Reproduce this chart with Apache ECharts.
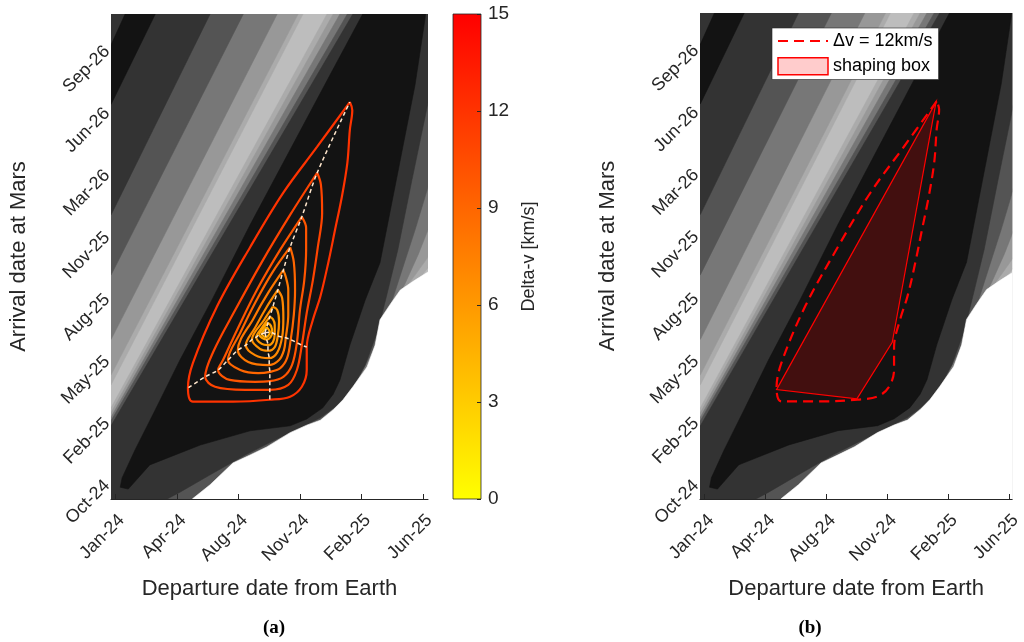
<!DOCTYPE html>
<html>
<head>
<meta charset="utf-8">
<script src="https://cdn.jsdelivr.net/npm/echarts@6/dist/echarts.min.js"></script>
<style>
  html, body { margin: 0; padding: 0; background: #ffffff; }
  #chart { width: 1024px; height: 642px; }
</style>
</head>
<body>
<div id="chart"></div>
<script>
// Axes: departure day (x) and arrival day (y), ticks every 100 days
const X_TICKS = [0, 100, 200, 300, 400, 500];
const X_TICK_LABELS = ['Jan-24', 'Apr-24', 'Aug-24', 'Nov-24', 'Feb-25', 'Jun-25'];
const Y_TICKS = [0, 100, 200, 300, 400, 500, 600, 700];
const Y_TICK_LABELS = ['Oct-24', 'Feb-25', 'May-25', 'Aug-25', 'Nov-25', 'Mar-26', 'Jun-26', 'Sep-26'];
const X_RANGE_A = [-7, 508];
const X_RANGE_B = [-7.7, 505];
const Y_RANGE = [-26, 756];
const CBAR_RANGE = [0, 15];

// Filled porkchop levels: each region holds the points below one level (index 0 = lowest)
const MAIN_LT_C5 = [[344,756],[-7,121],[-40,121],[-40,-60],[430,-60],[430,53],[438,247],[454,287],[471,306],[492,327],[508,347],[540,347],[540,790],[344,790]];
const MAIN_LT_C4 = [[354,756],[-7,113],[-40,113],[-40,-60],[414,-60],[414,53],[417,206],[433,243],[450,276],[467,308],[487,335],[508,364],[540,364],[540,790],[354,790]];
const MAIN_LT_C3 = [[365,756],[-7,106],[-40,106],[-40,-60],[389,-60],[389,53],[391,158],[407,185],[424,218],[440,255],[454,287],[471,322],[492,368],[508,408],[540,408],[540,790],[365,790]];
const MAIN_LT_C2 = [[377,756],[-7,100],[-40,100],[-40,-60],[365,-60],[365,69],[362,121],[381,147],[398,174],[417,211],[435,255],[451,298],[467,347],[487,408],[508,477],[540,477],[540,790],[377,790]];
const MAIN_LT_C1 = [[386,756],[-7,92],[-40,92],[-40,-60],[73,-60],[73,-52],[84,-26],[105,-15],[154,13],[211,45],[259,69],[300,89],[333,105],[362,126],[385,153],[406,190],[427,247],[443,311],[459,376],[482,489],[508,613],[540,613],[540,790],[386,790]];
const BASIN_C0 = [[402,756],[349,658],[284,537],[219,416],[157,295],[105,198],[65,118],[32,53],[11,8],[8,-7],[21,-10],[56,29],[138,61],[219,84],[284,92],[311,103],[337,121],[354,143],[365,166],[381,222],[406,295],[430,355],[463,521],[487,642],[503,747],[508,790],[402,790]];
const CORNER_LT_C5 = [[305,756],[-7,158],[-40,158],[-40,790],[305,790]];
const CORNER_LT_C4 = [[297,756],[-7,174],[-40,174],[-40,790],[297,790]];
const CORNER_LT_C3 = [[263,756],[-7,231],[-40,231],[-40,790],[263,790]];
const CORNER_LT_C2 = [[208,756],[-7,335],[-40,335],[-40,790],[208,790]];
const CORNER_LT_C1 = [[154,756],[-7,432],[-40,432],[-40,790],[154,790]];
const CORNER_C0 = [[65,756],[-7,610],[-40,610],[-40,706],[-7,706],[16,756],[16,790],[65,790]];
const NO_SOLUTION = [[125,-26],[154,-3],[191,32],[219,45],[246,58],[284,81],[311,93],[333,101],[354,118],[370,134],[386,155],[409,187],[422,222],[430,263],[446,287],[463,311],[487,327],[508,340],[540,340],[540,-60],[120,-60]];

// Delta-v contour levels [km/s] and their closed curves
const DV_LEVELS = [12, 11, 10, 9, 8, 7, 6.5, 6, 5.5, 5];
const DV_12 = [[381,614],[328,542],[273,468],[219,380],[165,284],[126,193],[118,153],[126,131],[191,131],[251,134],[284,139],[303,155],[311,182],[311,219],[321,263],[333,300],[346,355],[357,408],[368,461],[377,516],[381,569],[385,601],[381,614]];
const DV_11 = [[328,500],[284,432],[238,356],[195,279],[159,211],[146,171],[162,155],[211,150],[251,150],[281,158],[295,182],[303,222],[311,274],[321,327],[329,380],[336,435],[334,481],[328,500]];
const DV_10 = [[303,429],[268,376],[230,311],[198,247],[175,198],[167,182],[186,166],[227,163],[251,164],[273,171],[287,190],[295,226],[300,279],[307,327],[310,376],[310,411],[303,429]];
const DV_9 = [[284,380],[255,339],[227,290],[203,242],[183,198],[203,182],[232,177],[251,179],[268,185],[279,201],[285,231],[290,271],[292,311],[290,356],[284,380]];
const DV_8 = [[273,343],[248,306],[225,266],[199,214],[216,195],[250,190],[266,198],[274,214],[277,234],[281,271],[281,311],[277,332],[273,343]];
const DV_7 = [[264,311],[245,282],[227,250],[212,222],[227,206],[250,201],[263,210],[271,235],[273,266],[271,298],[264,311]];
const DV_6_5 = [[256,284],[242,263],[222,231],[235,216],[248,213],[259,219],[264,237],[266,260],[263,279],[256,284]];
const DV_6 = [[251,268],[238,250],[229,235],[238,224],[248,222],[256,227],[259,240],[259,255],[256,264],[251,268]];
const DV_5_5 = [[248,258],[234,239],[246,231],[255,242],[253,253],[248,258]];
const DV_5 = [[246,251],[238,240],[245,235],[251,243],[246,251]];
const DV_CURVES = [DV_12, DV_11, DV_10, DV_9, DV_8, DV_7, DV_6_5, DV_6, DV_5_5, DV_5];

// Ridge lines through the curve corners
const SPINE_TOP = [[243,242],[246,251],[248,258],[251,268],[256,284],[264,311],[273,343],[284,380],[303,429],[328,500],[381,614]];
const SPINE_LEFT = [[243,242],[238,240],[234,239],[229,235],[222,231],[212,222],[199,214],[183,198],[167,182],[146,171],[118,153]];
const SPINE_BOTTOM = [[243,242],[245,235],[246,231],[248,222],[248,213],[250,201],[250,190],[251,179],[251,164],[251,150],[251,134]];
const SPINE_RIGHT = [[243,242],[251,243],[255,242],[259,240],[264,237],[271,235],[277,234],[285,231],[295,226],[303,222],[311,219]];

// Shaping box corners
const SHAPING_BOX = [[380,613],[118,150],[250,135],[308,226]];

// ---- styling ----
const GRAYS = ['#131313', '#333333', '#545454', '#777777', '#989898', '#ababab', '#bdbdbd'];
const INK = '#262626';
const FONT = '"Liberation Sans", Arial, sans-serif';

const BAND_LAYERS = [
  [MAIN_LT_C5, 5], [MAIN_LT_C4, 4], [MAIN_LT_C3, 3], [MAIN_LT_C2, 2], [MAIN_LT_C1, 1], [BASIN_C0, 0],
  [CORNER_LT_C5, 5], [CORNER_LT_C4, 4], [CORNER_LT_C3, 3], [CORNER_LT_C2, 2], [CORNER_LT_C1, 1], [CORNER_C0, 0],
  [NO_SOLUTION, -1]
];

// autumn colormap, yellow at 0 and red at 15
function dvColor(v) {
  const g = Math.round(255 * (1 - v / CBAR_RANGE[1]));
  return 'rgb(255,' + g + ',0)';
}

function clipGroup(params, children) {
  const cs = params.coordSys;
  return { type: 'group', children: children,
           clipPath: { type: 'rect', shape: { x: cs.x, y: cs.y, width: cs.width, height: cs.height } } };
}

function bandSeries(axisIdx) {
  return {
    type: 'custom', coordinateSystem: 'cartesian2d', xAxisIndex: axisIdx, yAxisIndex: axisIdx,
    silent: true, z: 1, animation: false,
    data: BAND_LAYERS.map((l, i) => [0, 0, i]),
    renderItem: function (params, api) {
      const layer = BAND_LAYERS[params.dataIndex];
      const fill = layer[1] < 0 ? '#ffffff' : GRAYS[layer[1]];
      return clipGroup(params, [{
        type: 'polygon',
        shape: { points: layer[0].map(p => api.coord(p)) },
        style: { fill: fill, stroke: fill, lineWidth: 0.6 }
      }]);
    }
  };
}

function xAxisDef(grid, range) {
  return {
    type: 'value', gridIndex: grid, min: range[0], max: range[1], z: 5,
    name: 'Departure date from Earth', nameLocation: 'middle', nameGap: 79,
    nameTextStyle: { fontFamily: FONT, fontSize: 22, color: INK },
    axisLine: { show: true, onZero: false, lineStyle: { color: INK, width: 1 } },
    axisTick: { show: true, inside: true, length: 5, customValues: X_TICKS, lineStyle: { color: INK } },
    axisLabel: { show: true, rotate: 45, margin: 12, verticalAlign: 'top', customValues: X_TICKS,
                 fontFamily: FONT, fontSize: 18, color: INK,
                 formatter: v => X_TICK_LABELS[X_TICKS.indexOf(v)] },
    splitLine: { show: false }
  };
}
function yAxisDef(grid) {
  return {
    type: 'value', gridIndex: grid, min: Y_RANGE[0], max: Y_RANGE[1],
    name: 'Arrival date at Mars', nameLocation: 'middle', nameGap: 81, nameRotate: 90,
    nameTextStyle: { fontFamily: FONT, fontSize: 22, color: INK },
    axisLine: { show: false, onZero: false },
    axisTick: { show: false, customValues: Y_TICKS },
    axisLabel: { show: true, rotate: 45, margin: 4, padding: [0, 0, 12, 0], customValues: Y_TICKS,
                 fontFamily: FONT, fontSize: 18, color: INK,
                 formatter: v => Y_TICK_LABELS[Y_TICKS.indexOf(v)] },
    splitLine: { show: false }
  };
}

const series = [bandSeries(0), bandSeries(1)];

// panel (a): delta-v contours
DV_CURVES.forEach((curve, i) => {
  series.push({
    type: 'line', xAxisIndex: 0, yAxisIndex: 0, data: curve, smooth: 0.35, symbol: 'none',
    lineStyle: { color: dvColor(DV_LEVELS[i]), width: 2.2 }, z: 3, silent: true, animation: false
  });
});
[SPINE_TOP, SPINE_LEFT, SPINE_BOTTOM, SPINE_RIGHT].forEach(sp => {
  series.push({
    type: 'line', xAxisIndex: 0, yAxisIndex: 0, data: sp, smooth: 0.3, symbol: 'none',
    lineStyle: { color: '#ffe6cc', width: 1.5, type: [4, 3] }, z: 4, silent: true, animation: false
  });
});

// panel (b): shaping box and the 12 km/s contour
series.push({
  name: 'shaping box', type: 'custom', coordinateSystem: 'cartesian2d', xAxisIndex: 1, yAxisIndex: 1,
  z: 3, silent: true, animation: false, legendIcon: 'rect',
  itemStyle: { color: 'rgba(255,0,0,0.2)', borderColor: '#ff0000', borderWidth: 1.5 },
  data: [[0, 0]],
  renderItem: function (params, api) {
    return clipGroup(params, [{
      type: 'polygon',
      shape: { points: SHAPING_BOX.map(p => api.coord(p)) },
      style: { fill: 'rgba(255,0,0,0.2)', stroke: '#ff0000', lineWidth: 1.2 }
    }]);
  }
});
series.push({
  name: 'Δv = 12km/s', type: 'line', xAxisIndex: 1, yAxisIndex: 1, data: DV_12, smooth: 0.35, symbol: 'none',
  lineStyle: { color: '#ff0000', width: 2.2, type: [10, 6] }, itemStyle: { color: '#ff0000' },
  z: 4, silent: true, animation: false
});

// colour bar
series.push({
  type: 'custom', coordinateSystem: 'cartesian2d', xAxisIndex: 2, yAxisIndex: 2,
  silent: true, animation: false, z: 1, data: [[0, 0]],
  renderItem: function (params, api) {
    const p0 = api.coord([0, CBAR_RANGE[1]]);
    const p1 = api.coord([1, CBAR_RANGE[0]]);
    return {
      type: 'rect',
      shape: { x: p0[0], y: p0[1], width: p1[0] - p0[0], height: p1[1] - p0[1] },
      style: {
        fill: new echarts.graphic.LinearGradient(0, 0, 0, 1, [
          { offset: 0, color: dvColor(CBAR_RANGE[1]) },
          { offset: 1, color: dvColor(CBAR_RANGE[0]) }
        ]),
        stroke: INK, lineWidth: 0.8
      }
    };
  }
});

const option = {
  backgroundColor: '#ffffff',
  animation: false,
  grid: [
    { left: 111, top: 14, width: 317, height: 485, show: true, backgroundColor: GRAYS[6], borderWidth: 0 },
    { left: 700, top: 13, width: 313, height: 486, show: true, backgroundColor: GRAYS[6], borderWidth: 0 },
    { left: 453, top: 14, width: 28, height: 485 }
  ],
  xAxis: [
    xAxisDef(0, X_RANGE_A),
    xAxisDef(1, X_RANGE_B),
    { type: 'value', gridIndex: 2, min: 0, max: 1, show: false, axisLine: { onZero: false } }
  ],
  yAxis: [
    yAxisDef(0),
    yAxisDef(1),
    {
      type: 'value', gridIndex: 2, min: CBAR_RANGE[0], max: CBAR_RANGE[1], interval: 3, position: 'right', z: 5,
      name: 'Delta-v [km/s]', nameLocation: 'middle', nameGap: 39, nameRotate: 90,
      nameTextStyle: { fontFamily: FONT, fontSize: 18, color: INK },
      axisLine: { show: false, onZero: false },
      axisTick: { show: true, inside: true, length: 4, lineStyle: { color: INK } },
      axisLabel: { fontFamily: FONT, fontSize: 19, color: INK, margin: 7 },
      splitLine: { show: false }
    }
  ],
  legend: {
    orient: 'vertical', left: 772, top: 28,
    data: [
      { name: 'Δv = 12km/s', itemStyle: { opacity: 0 } },
      { name: 'shaping box', icon: 'rect', itemStyle: { color: 'rgba(255,0,0,0.2)', borderColor: '#ff0000', borderWidth: 1.5 } }
    ],
    itemWidth: 50, itemHeight: 17, itemGap: 7, padding: [4, 6, 4, 5],
    backgroundColor: '#ffffff', borderColor: INK, borderWidth: 0.6,
    textStyle: { fontFamily: FONT, fontSize: 18, color: '#000000' },
    selectedMode: false
  },
  graphic: [
    { type: 'text', x: 274, y: 628, style: { text: '(a)', font: 'bold 19px "Liberation Serif", "Times New Roman", serif', fill: '#000', textAlign: 'center', textVerticalAlign: 'middle' } },
    { type: 'text', x: 810, y: 628, style: { text: '(b)', font: 'bold 19px "Liberation Serif", "Times New Roman", serif', fill: '#000', textAlign: 'center', textVerticalAlign: 'middle' } }
  ],
  series: series
};

const chart = echarts.init(document.getElementById('chart'));
chart.setOption(option);
</script>
</body>
</html>
